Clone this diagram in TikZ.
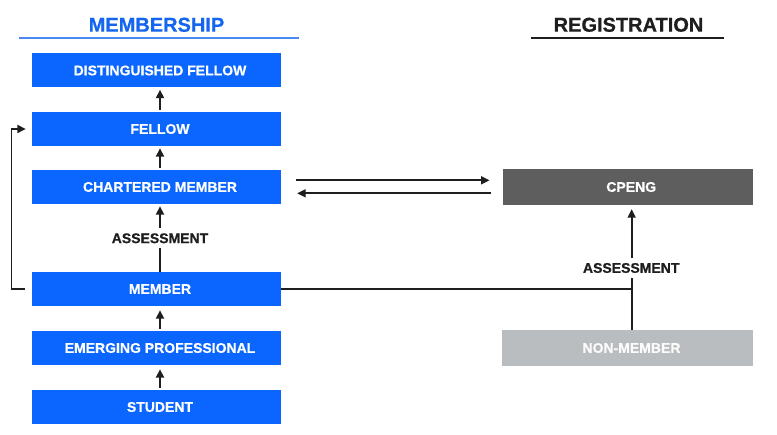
\documentclass[tikz,border=0pt]{standalone}
\usepackage{fontspec}
\setmainfont{Liberation Sans}
\newfontfamily\heavy[FakeBold=0.6]{Liberation Sans Bold}
\usetikzlibrary{arrows.meta,calc}
\definecolor{mblue}{HTML}{0A66FF}
\definecolor{tblue}{HTML}{1466F0}
\definecolor{lblue}{HTML}{4A8AF0}
\definecolor{dgray}{HTML}{5E5E5E}
\definecolor{lgray}{HTML}{B9BDBF}
\definecolor{ink}{HTML}{1E1E1E}
\begin{document}
\begin{tikzpicture}[x=1pt,y=-1pt,
  boxfont/.style={font=\heavy\fontsize{14}{16}\selectfont},
  mbox/.style={boxfont, fill=mblue, text=white, minimum width=249pt, minimum height=34pt, inner sep=0pt},
  cbox/.style={boxfont, fill=dgray, text=white, minimum width=250pt, minimum height=36pt, inner sep=0pt},
  nbox/.style={boxfont, fill=lgray, text=white!94!lgray, minimum width=251pt, minimum height=36pt, inner sep=0pt},
  lab/.style={boxfont, text=ink, inner xsep=3pt, inner ysep=5pt},
  title/.style={font=\heavy\fontsize{20}{24}\selectfont, inner sep=0pt},
  ln/.style={draw=ink, line width=1.7pt},
  arr/.style={ln, -{Triangle[length=8.5pt,width=8pt]}},
]
\fill[white] (0,0) rectangle (777,435);
\useasboundingbox (0,0) rectangle (777,435);

% titles
\node[title, text=tblue] (tm) at (156.5,24.8) {MEMBERSHIP};
\draw[lblue, line width=2pt] (19,37.7) -- (299,37.7);
\node[title, text=ink] (tr) at (628.5,24.8) {REGISTRATION};
\draw[ink, line width=1.6pt] (530.7,38) -- (724,38);

% membership boxes
\node[mbox] (df) at (156.5,70.5) {\hspace*{7pt}DISTINGUISHED FELLOW};
\node[mbox] (f)  at (156.5,129)  {\hspace*{7pt}FELLOW};
\node[mbox] (cm) at (156.5,187)  {\hspace*{7pt}CHARTERED MEMBER};
\node[mbox] (m)  at (156.5,289)  {\hspace*{7pt}MEMBER};
\node[mbox] (ep) at (156.5,348)  {\hspace*{7pt}EMERGING PROFESSIONAL};
\node[mbox] (s)  at (156.5,407)  {\hspace*{7pt}STUDENT};

% registration boxes
\node[cbox] (cp) at (627.7,187) {\hspace*{7pt}CPENG};
\node[nbox] (nm) at (627.5,348) {\hspace*{8pt}NON-MEMBER};

% vertical arrows in membership column
\draw[arr] ([xshift=3.5pt,yshift=2pt]f.north)  -- ([xshift=3.5pt,yshift=-2pt]df.south);
\draw[arr] ([xshift=3.5pt,yshift=2pt]cm.north) -- ([xshift=3.5pt,yshift=-2pt]f.south);
\draw[arr] ([xshift=3.5pt,yshift=2pt]ep.north) -- ([xshift=3.5pt,yshift=-4pt]m.south);
\draw[arr] ([xshift=3.5pt,yshift=2pt]s.north)  -- ([xshift=3.5pt,yshift=-4pt]ep.south);

% assessment member -> chartered
\node[lab] (a1) at (160,238.3) {ASSESSMENT};
\draw[ln]  ([xshift=3.5pt]m.north) -- (a1.south);
\draw[arr] (a1.north) -- ([xshift=3.5pt,yshift=-2pt]cm.south);

% loop member -> fellow
\draw[arr] ([xshift=-7pt]m.west) -- ++(-13.3,0) |- ([xshift=-6pt]f.west);

% chartered <-> cpeng
\draw[arr] ([xshift=15pt,yshift=6.7pt]cm.east) -- ([xshift=-13pt,yshift=6.7pt]cp.west);
\draw[arr] ([xshift=-12pt,yshift=-6.3pt]cp.west) -- ([xshift=16pt,yshift=-6.3pt]cm.east);

% member / non-member -> assessment -> cpeng
\coordinate (j) at (631.7,289);
\node[lab] (a2) at (631.2,268) {ASSESSMENT};
\draw[ln] (m.east) -- (j);
\draw[ln] ([xshift=4.2pt]nm.north) -- (j) -- (a2.south -| j);
\draw[arr] (a2.north -| j) -- ([xshift=4pt,yshift=-4pt]cp.south);
\end{tikzpicture}
\end{document}
